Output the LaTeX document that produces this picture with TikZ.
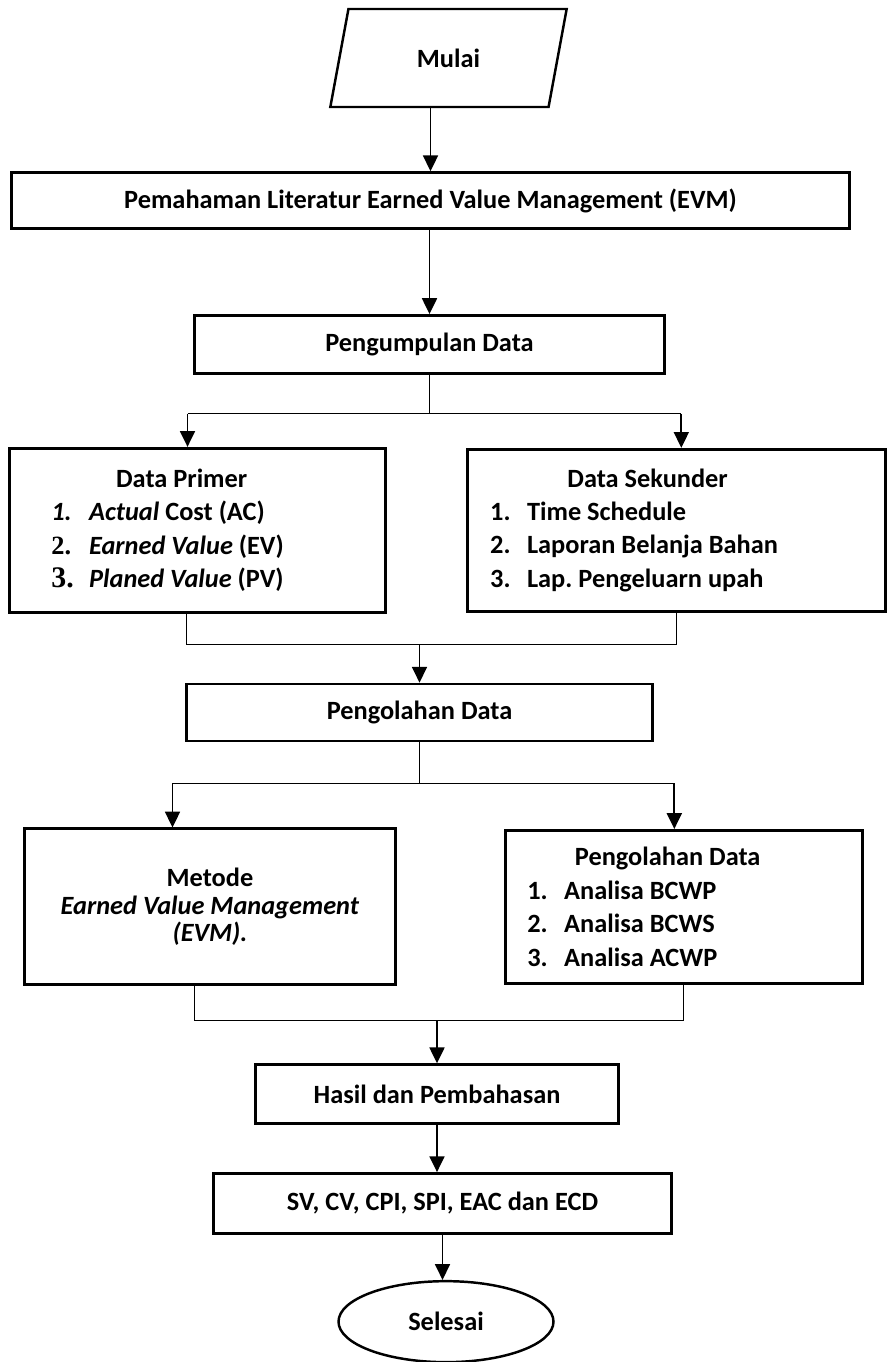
\documentclass[tikz,border=0pt]{standalone}
\usepackage{fontspec}
\setmainfont{Carlito}
\newfontfamily\tnrfont{Liberation Serif}
\usepackage{tikz}
\usetikzlibrary{shapes.geometric, arrows.meta, positioning}
\tikzstyle{process} = [rectangle, draw=black, line width=1.6pt, text centered, inner sep=0pt]
\tikzstyle{listbox} = [rectangle, draw=black, line width=1.6pt, inner sep=0pt, align=flush left]
\tikzstyle{startbox} = [trapezium, trapezium left angle=73, trapezium right angle=107, trapezium stretches=true, draw=black, line width=1.4pt, inner sep=0pt]
\tikzstyle{endbox} = [ellipse, draw=black, line width=1.4pt, inner sep=0pt]
\tikzstyle{arrow} = [line width=1.1pt, -{Triangle[length=9pt,width=8.5pt]}]
\tikzstyle{connector} = [line width=0.6pt]

\begin{document}
\begin{tikzpicture}[every node/.style={font=\fontsize{15pt}{19pt}\selectfont\bfseries}]
            \useasboundingbox (0,0) rectangle (17.74,-27.24);
            \node (mulai) [startbox, minimum width=4.74cm, minimum height=1.96cm] at (8.97,-1.16) {Mulai};
            \node (pem) [process, minimum width=16.76cm, minimum height=1.12cm, below=1.26cm of mulai, xshift=-0.36cm] {Pemahaman Literatur Earned Value Management (EVM)};
            \node (peng) [process, minimum width=9.40cm, minimum height=1.16cm, below=1.68cm of pem, xshift=-0.02cm] {Pengumpulan Data};
            \node (primer) [listbox, text width=7.52cm, minimum height=3.28cm, below=1.44cm of peng, xshift=-4.64cm] {%
                \hspace*{98pt}\makebox[0pt]{Data Primer}\\
                \hspace*{23.8pt}\makebox[21.5pt][l]{\textit{1.}}\textit{Actual} Cost (AC)\\
                \hspace*{23.8pt}\makebox[21.5pt][l]{\tnrfont 2.}\textit{Earned Value} (EV)\\
                \hspace*{23.8pt}\makebox[21.5pt][l]{\tnrfont\fontsize{17pt}{19pt}\selectfont 3.}\textit{Planed Value} (PV)};
            \node (sekunder) [listbox, text width=8.36cm, minimum height=3.24cm, right=1.58cm of primer] {%
                \hspace*{102.6pt}\makebox[0pt]{Data Sekunder}\\
                \hspace*{13pt}\makebox[21pt][l]{1.}Time Schedule\\
                \hspace*{13pt}\makebox[21pt][l]{2.}Laporan Belanja Bahan\\
                \hspace*{13pt}\makebox[21pt][l]{3.}Lap.\ Pengeluarn upah};
            \node (olah) [process, minimum width=9.32cm, minimum height=1.14cm, below=1.38cm of primer, xshift=4.44cm] {Pengolahan Data};
            \node (metode) [process, align=center, font=\fontsize{15pt}{15.5pt}\selectfont\bfseries, minimum width=7.42cm, minimum height=3.12cm, below=1.70cm of olah, xshift=-4.19cm] {Metode\\\textit{Earned Value Management}\\\textit{(EVM).}};
            \node (analisa) [listbox, text width=7.14cm, minimum height=3.06cm, right=2.14cm of metode] {%
                \hspace*{92.4pt}\makebox[0pt]{Pengolahan Data}\\
                \hspace*{12.5pt}\makebox[21pt][l]{1.}Analisa BCWP\\
                \hspace*{12.5pt}\makebox[21pt][l]{2.}Analisa BCWS\\
                \hspace*{12.5pt}\makebox[21pt][l]{3.}Analisa ACWP};
            \node (hasil) [process, minimum width=7.26cm, minimum height=1.18cm, below=1.54cm of metode, xshift=4.54cm] {Hasil dan Pembahasan};
            \node (sv) [process, minimum width=9.16cm, minimum height=1.20cm, below=0.94cm of hasil, xshift=0.11cm] {SV, CV, CPI, SPI, EAC dan ECD};
            \node (selesai) [endbox, minimum width=4.30cm, minimum height=1.62cm, below=0.90cm of sv, xshift=0.07cm] {Selesai};
            % titik cabang
            \coordinate[below=0.78cm of peng] (s1);
            \coordinate (pa) at ([xshift=-0.2cm]primer.north);
            \coordinate (sa) at ([xshift=0.1cm]sekunder.north);
            \coordinate (pb) at ([xshift=-0.22cm]primer.south);
            \coordinate (j1) at ([yshift=-0.62cm]pb);
            \coordinate[below=0.82cm of olah] (s2);
            \coordinate (ma) at ([xshift=-0.75cm]metode.north);
            \coordinate (aa) at ([xshift=-0.19cm]analisa.north);
            \coordinate (mb) at ([xshift=-0.31cm]metode.south);
            \coordinate (j2) at ([yshift=-0.68cm]mb);
            \draw [arrow] (mulai.south -| pem.north) -- (pem.north);
            \draw [arrow] (pem.south -| peng.north) -- (peng.north);
            \draw [connector] (peng.south) -- (s1);
            \draw [connector] (pa |- s1) -- (sa |- s1);
            \draw [arrow] (pa |- s1) -- (pa);
            \draw [arrow] (sa |- s1) -- (sa);
            \draw [connector] (pb) -- (j1) -- (j1 -| sekunder.south) -- (sekunder.south);
            \draw [arrow] (j1 -| olah.north) -- (olah.north);
            \draw [connector] (olah.south) -- (s2);
            \draw [connector] (ma |- s2) -- (aa |- s2);
            \draw [arrow] (ma |- s2) -- (ma);
            \draw [arrow] (aa |- s2) -- (aa);
            \draw [connector] (mb) -- (j2) -- (j2 -| analisa.south) -- (analisa.south);
            \draw [arrow] (j2 -| hasil.north) -- (hasil.north);
            \draw [arrow] (hasil.south) -- (hasil.south |- sv.north);
            \draw [arrow] (sv.south) -- (sv.south |- selesai.north);
\end{tikzpicture}
\end{document}
